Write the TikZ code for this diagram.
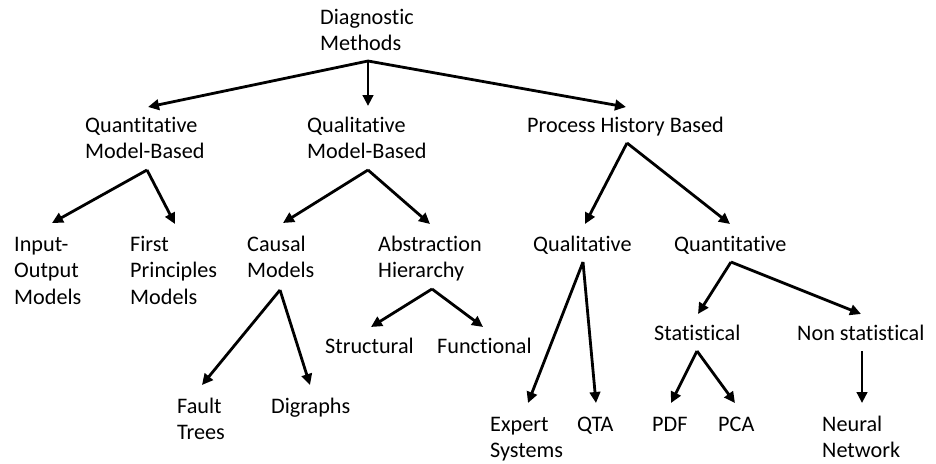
\documentclass[tikz,border=0pt]{standalone}
\usepackage{fontspec}
\setmainfont{Carlito}[Ligatures=NoCommon]
\usetikzlibrary{arrows.meta}
\newcommand\mlines[1]{\begin{tabular}[t]{@{}l@{}}#1\end{tabular}}
\begin{document}
\begin{tikzpicture}[x=1pt,y=-1pt,
  lbl/.style={anchor=base west,inner sep=0pt,font=\fontsize{22.2}{26.5}\selectfont},
  arr/.style={line width=2.8pt,-{Triangle[length=11pt,width=10.5pt]}}]
\useasboundingbox (0,0) rectangle (936,463);
% nodes
\node[lbl] (root) at (320,24) {\mlines{Diagnostic\\Methods}};
\node[lbl] (qmb) at (85,132) {\mlines{Quantitative\\Model-Based}};
\node[lbl] (qlmb) at (307,132) {\mlines{Qualitative\\Model-Based}};
\node[lbl] (phb) at (527,132) {Process History Based};
\node[lbl] (io) at (14,251) {\mlines{Input-\\Output\\Models}};
\node[lbl] (fp) at (130,251) {\mlines{First\\Principles\\Models}};
\node[lbl] (cm) at (247,251) {\mlines{Causal\\Models}};
\node[lbl] (ah) at (378,251) {\mlines{Abstraction\\Hierarchy}};
\node[lbl] (ql) at (533,251) {Qualitative};
\node[lbl] (qn) at (674,251) {Quantitative};
\node[lbl] (st) at (325,353) {Structural};
\node[lbl] (fu) at (437,353) {Functional};
\node[lbl] (stat) at (654,340) {Statistical};
\node[lbl] (nst) at (797,340) {Non statistical};
\node[lbl] (ft) at (177,413) {\mlines{Fault\\Trees}};
\node[lbl] (dg) at (271,413) {Digraphs};
\node[lbl] (es) at (490,431) {\mlines{Expert\\Systems}};
\node[lbl] (qta) at (577,431) {QTA};
\node[lbl] (pdf) at (652,431) {PDF};
\node[lbl] (pca) at (718,431) {PCA};
\node[lbl] (nn) at (822,431) {\mlines{Neural\\Network}};
% split points
\coordinate (rootS) at (368,61);
\coordinate (qmbS) at (147,170);
\coordinate (qlmbS) at (368,170);
\coordinate (phbS) at (627,143);
\coordinate (cmS) at (280,290);
\coordinate (ahS) at (432,289);
\coordinate (qlS) at (583,262);
\coordinate (qnS) at (731,262);
\coordinate (statS) at (697,351);
\coordinate (nstS) at (862,351);
% arrow tips
\coordinate (qmbT) at (148,107);
\coordinate (qlmbT) at (368,106);
\coordinate (phbT) at (626,107);
\coordinate (ioT) at (52,223);
\coordinate (fpT) at (175,224);
\coordinate (cmT) at (283,223);
\coordinate (ahT) at (430,224);
\coordinate (qlT) at (585,224);
\coordinate (qnT) at (730,224);
\coordinate (ftT) at (202,385);
\coordinate (dgT) at (310,385);
\coordinate (stT) at (371,327);
\coordinate (fuT) at (483,327);
\coordinate (esT) at (528,403);
\coordinate (qtaT) at (596,403);
\coordinate (statT) at (698,314);
\coordinate (nstT) at (861,314);
\coordinate (pdfT) at (671,403);
\coordinate (pcaT) at (735,403);
\coordinate (nnT) at (862,403);
% connectors
\draw[arr] (rootS) -- (qmbT);
\draw[arr] (rootS) -- (qlmbT);
\draw[arr] (rootS) -- (phbT);
\draw[arr] (qmbS) -- (ioT);
\draw[arr] (qmbS) -- (fpT);
\draw[arr] (qlmbS) -- (cmT);
\draw[arr] (qlmbS) -- (ahT);
\draw[arr] (phbS) -- (qlT);
\draw[arr] (phbS) -- (qnT);
\draw[arr] (cmS) -- (ftT);
\draw[arr] (cmS) -- (dgT);
\draw[arr] (ahS) -- (stT);
\draw[arr] (ahS) -- (fuT);
\draw[arr] (qlS) -- (esT);
\draw[arr] (qlS) -- (qtaT);
\draw[arr] (qnS) -- (statT);
\draw[arr] (qnS) -- (nstT);
\draw[arr] (statS) -- (pdfT);
\draw[arr] (statS) -- (pcaT);
\draw[arr] (nstS) -- (nnT);
\end{tikzpicture}
\end{document}
